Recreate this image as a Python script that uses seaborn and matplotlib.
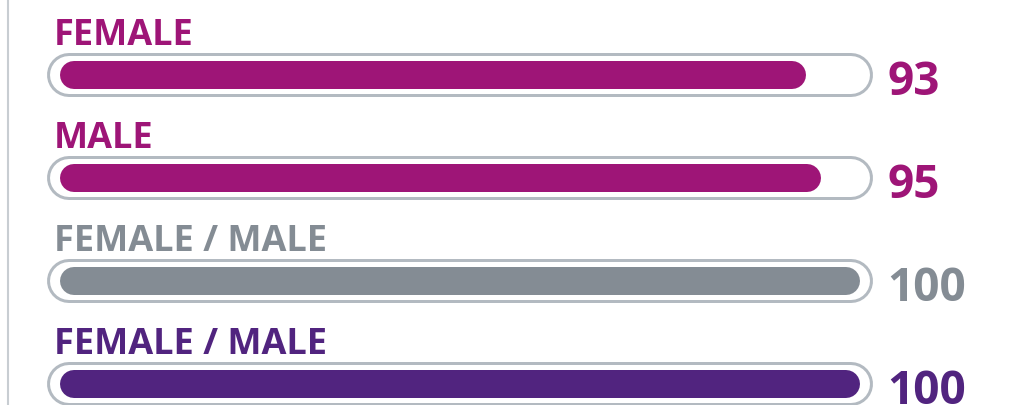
import numpy as np
import pandas as pd
import matplotlib
matplotlib.use("Agg")
import matplotlib.pyplot as plt
import seaborn as sns

# dados
labels = ["FEMALE", "MALE", "FEMALE / MALE", "FEMALE / MALE"]
values = [93, 95, 100, 100]
colors = ["#9e1577", "#9e1577", "#848c94", "#51247f"]
max_value = 100

sns.set_theme(style="white")
plt.rcParams['font.family'] = ['Open Sans', 'DejaVu Sans']

fig = plt.figure(figsize=(10.30, 4.06), dpi=100)
ax = fig.add_axes([0, 0, 1, 1])

rows = np.arange(len(values))

# trilho (contorno cinzento + interior branco), um pouco mais largo que a barra
px = 0.72  # pontos por pixel a 100 dpi
pad = 0.6
for r in rows:
    ax.plot([-pad, max_value + pad], [r, r], color="#b3bac1", lw=44 * px,
            solid_capstyle="round", zorder=1)
    ax.plot([-pad, max_value + pad], [r, r], color="white", lw=38 * px,
            solid_capstyle="round", zorder=2)

# barras preenchidas
df = pd.DataFrame({
    "x": np.concatenate([[0, v] for v in values]),
    "row": np.repeat(rows, 2),
})
sns.lineplot(data=df, x="x", y="row", hue="row", palette=colors,
             estimator=None, sort=False, lw=28 * px, legend=False,
             solid_capstyle="round", zorder=3, ax=ax)

# textos
for r, lab, v, c in zip(rows, labels, values, colors):
    ax.text(-2.6, r - 0.30, lab, color=c, fontsize=26, fontweight="bold",
            va="baseline", ha="left")
    ax.text(105.4, r + 0.185, str(v), color=c, fontsize=33, fontweight="bold",
            va="baseline", ha="left")

ax.axvline(-8.55, color="#c8cdd2", lw=1.5, zorder=0)

ax.set_xlim(-74 / 7.72, (1030 - 74) / 7.72)
ax.set_ylim((406 - 76) / 103, -76 / 103)
ax.set_axis_off()

fig.savefig("out.png", dpi=100)
